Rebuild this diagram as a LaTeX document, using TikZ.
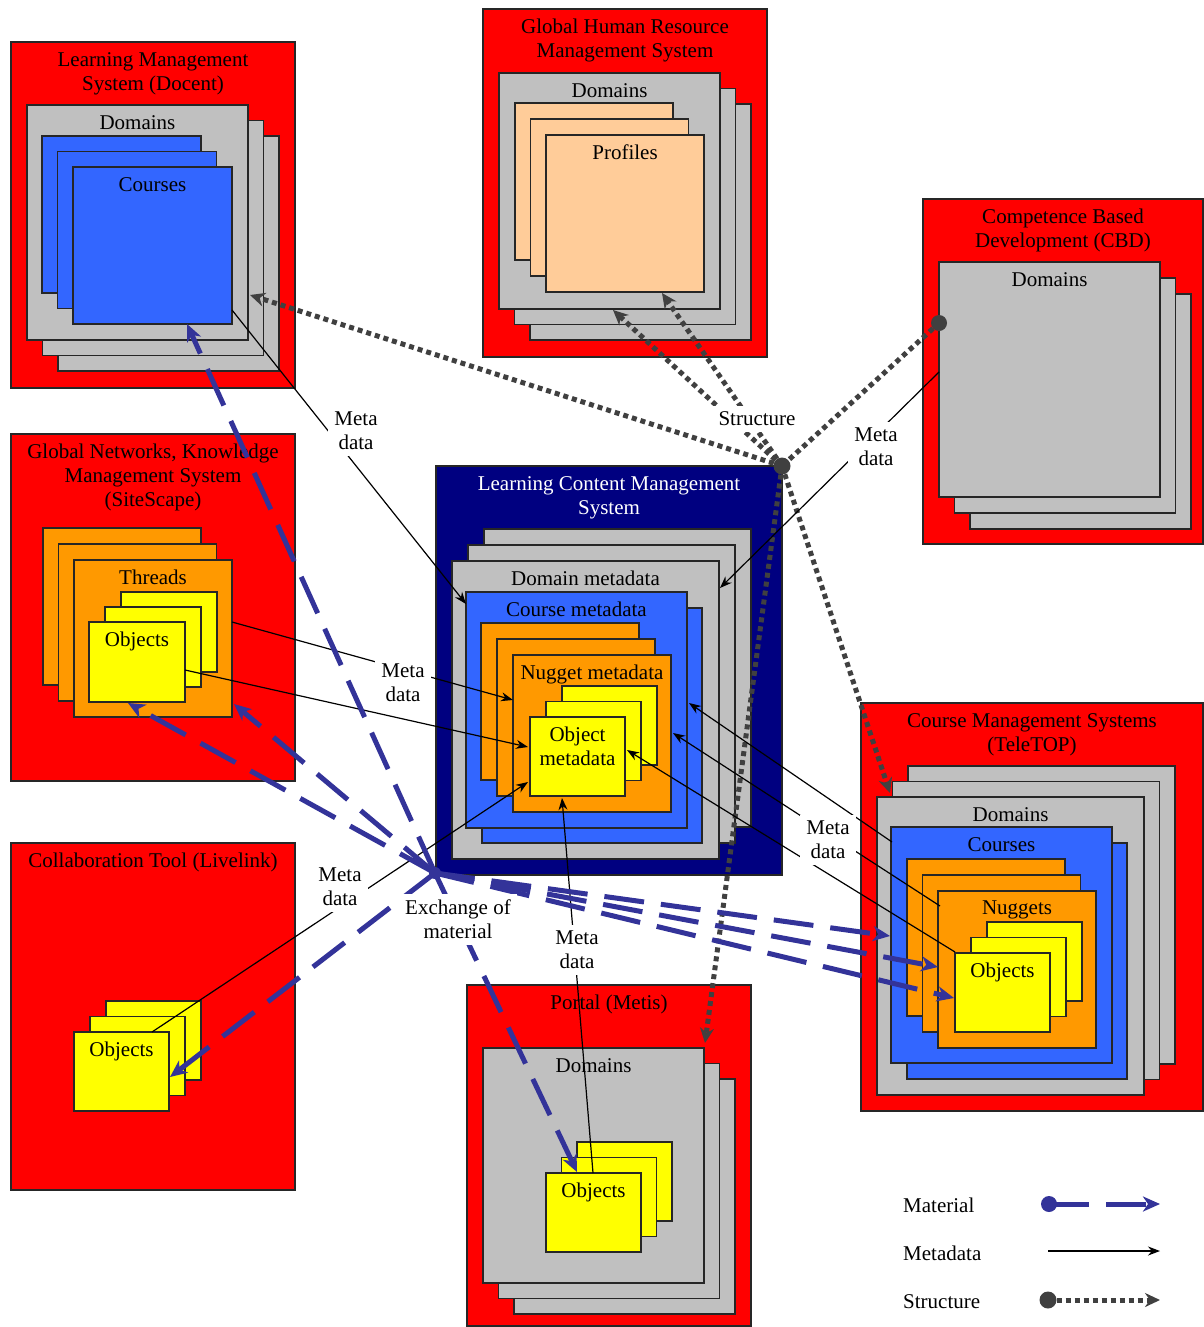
\documentclass[tikz,border=0pt]{standalone}
\usepackage{fontspec}
\setmainfont{Liberation Serif}
\usetikzlibrary{arrows.meta,positioning,calc}

\definecolor{rojo}{HTML}{FF0000}
\definecolor{gris}{HTML}{C0C0C0}
\definecolor{azul}{HTML}{3366FF}
\definecolor{naranja}{HTML}{FF9900}
\definecolor{amarillo}{HTML}{FFFF00}
\definecolor{melocoton}{HTML}{FFCC99}
\definecolor{marino}{HTML}{000080}
\definecolor{violeta}{HTML}{333399}
\definecolor{oscuro}{HTML}{404040}

% caja con rotulo arriba: [color texto], nombre, x1, y1, x2, y2, relleno, texto
\newcommand{\caja}[8][black]{%
  \node[hoja, fill=#7, anchor=north west,
        minimum width={(#5-#3)*1pt}, minimum height={(#6-#4)*1pt}] (#2) at (#3,#4) {};
  \node[rotulo, text=#1] (#2-t) at ([yshift=-10pt]#2.north) {#8};
}
% pila de tres hojas: las dos de atras desplazadas (dx,dy)
\newcommand{\pila}[9]{%
  \foreach \k in {2,1}
    \draw[hoja, fill=#8, shift={(\k*#6,\k*#7)}] (#2,#3) rectangle (#4,#5);
  \caja{#1}{#2}{#3}{#4}{#5}{#8}{#9}%
}

\begin{document}
\begin{tikzpicture}[
            x=1pt, y=-1pt,
            hoja/.style={draw=black!85, line width=1.2pt, inner sep=0pt, outer sep=0pt},
            rotulo/.style={anchor=north, inner sep=0pt, align=center, font=\fontsize{21}{24}\selectfont},
            etiqueta/.style={fill=white, inner sep=6pt, align=center, font=\fontsize{21}{24}\selectfont},
            material/.style={draw=violeta, line width=5pt, dash pattern=on 40pt off 17pt,
                             -{Stealth[length=17pt, width=15pt, inset=5pt]}},
            metadato/.style={draw=black, line width=1.2pt, -{Stealth[length=12pt, width=9pt]}},
            estructura/.style={draw=oscuro, line width=5pt, dash pattern=on 5pt off 4pt,
                               -{Stealth[length=15pt, width=14pt]}},
            punto/.style={circle, fill=oscuro, inner sep=0pt, minimum size=17pt}
        ]
        \useasboundingbox (0,0) rectangle (1203,1327);

        % Learning Management System
        \caja{lms}{11}{42}{295}{388}{rojo}{Learning Management\\System (Docent)}
        \pila{lms-dom}{27}{105}{248}{340}{15.5}{15.5}{gris}{Domains}
        \pila{lms-cur}{73}{167}{232}{324}{-15.5}{-15.5}{azul}{Courses}

        % Human Resource Management
        \caja{rrhh}{483}{9}{767}{357}{rojo}{Global Human Resource\\Management System}
        \pila{rrhh-dom}{499}{73}{720}{309}{15.5}{15.5}{gris}{Domains}
        \pila{rrhh-per}{546}{135}{704}{292}{-15.5}{-16}{melocoton}{Profiles}

        % Competence Based Development
        \caja{cbd}{923}{199}{1203}{544}{rojo}{Competence Based\\Development (CBD)}
        \pila{cbd-dom}{939}{262}{1160}{497}{15.5}{16}{gris}{Domains}

        % Knowledge Management (SiteScape)
        \caja{red}{11}{434}{295}{781}{rojo}{Global Networks, Knowledge\\Management System\\(SiteScape)}
        \pila{red-hil}{74}{560}{232}{717}{-15.5}{-16}{naranja}{Threads}
        \pila{red-obj}{89}{622}{185}{702}{16}{-15}{amarillo}{Objects}

        % Collaboration Tool
        \caja{col}{11}{843}{295}{1190}{rojo}{Collaboration Tool (Livelink)}
        \pila{col-obj}{74}{1032}{169}{1111}{16}{-15.5}{amarillo}{Objects}

        % LCMS central
        \caja[white]{lcms}{436}{466}{782}{875}{marino}{Learning Content Management\\System}
        \pila{lcms-dom}{452}{561}{719}{859}{16}{-16}{gris}{Domain metadata}
        \draw[hoja, fill=azul] (482,608) rectangle (702,843);
        \caja{lcms-cur}{466}{592}{687}{828}{azul}{Course metadata}
        \pila{lcms-pep}{513}{655}{671}{812}{-16}{-16}{naranja}{Nugget metadata}
        \pila{lcms-obj}{530}{717}{625}{796}{16}{-15.5}{amarillo}{Object\\metadata}

        % Course Management Systems (TeleTOP)
        \caja{tt}{861}{703}{1203}{1111}{rojo}{Course Management Systems\\(TeleTOP)}
        \pila{tt-dom}{877}{797}{1144}{1095}{15.5}{-15.5}{gris}{Domains}
        \draw[hoja, fill=azul] (907,843) rectangle (1127,1079);
        \caja{tt-cur}{891}{827}{1112}{1063}{azul}{Courses}
        \pila{tt-pep}{938}{891}{1096}{1048}{-15.5}{-16}{naranja}{Nuggets}
        \pila{tt-obj}{955}{953}{1050}{1032}{16}{-15.5}{amarillo}{Objects}

        % Portal
        \caja{portal}{467}{985}{751}{1326}{rojo}{Portal (Metis)}
        \pila{portal-dom}{483}{1048}{704}{1283}{15.5}{15.5}{gris}{Domains}
        \pila{portal-obj}{546}{1173}{641}{1252}{15.5}{-15.5}{amarillo}{Objects}

        % Estructura: desde CBD via la esquina del LCMS
        \node[punto] (nodo-est) at (782,466) {};
        \node[punto, minimum size=16pt] (cbd-pt) at (939,323) {};
        \coordinate (es-lms) at (250,295);
        \coordinate (es-rrhh1) at (613,310);
        \coordinate (es-rrhh2) at (662,293);
        \coordinate (es-tt) at (890,793);
        \coordinate (es-por) at (705,1043);
        \draw[estructura, -] (cbd-pt) -- (nodo-est);
        \foreach \t in {es-lms, es-rrhh1, es-rrhh2, es-tt, es-por}
            \draw[estructura] (nodo-est) -- (\t);

        % Metadatos
        \coordinate (md-lms) at (232,310);
        \coordinate (md-cbd) at (939,372);
        \coordinate (md-hil) at (232,622);
        \coordinate (md-obj) at (185,670);
        \coordinate (md-col) at (152,1032);
        \coordinate (md-por) at (593,1173);
        \coordinate (md-ttc) at (892,842);
        \coordinate (md-ttp) at (940,906);
        \coordinate (md-tto) at (955,952);
        \coordinate (ld-cur) at (466,604);
        \coordinate (ld-dom) at (720,588);
        \coordinate (ld-pep) at (513,700);
        \coordinate (ld-obj1) at (528,747);
        \coordinate (ld-obj2) at (528,782);
        \coordinate (ld-obj3) at (562,798);
        \coordinate (ld-cur2) at (689,703);
        \coordinate (ld-pep2) at (673,733);
        \coordinate (ld-obj4) at (627,750);
        \foreach \a/\b in {md-lms/ld-cur, md-cbd/ld-dom, md-hil/ld-pep, md-obj/ld-obj1,
                           md-col/ld-obj2, md-por/ld-obj3, md-ttc/ld-cur2, md-ttp/ld-pep2, md-tto/ld-obj4}
            \draw[metadato] (\a) -- (\b);

        % Intercambio de material
        \node[punto, fill=violeta, minimum size=12pt] (nodo-mat) at (435,873) {};
        \coordinate (mt-lms) at (187,324);
        \coordinate (mt-hil) at (234,704);
        \coordinate (mt-obj) at (128,703);
        \coordinate (mt-col) at (170,1077);
        \coordinate (mt-por) at (577,1172);
        \coordinate (mt-tt1) at (890,936);
        \coordinate (mt-tt2) at (938,967);
        \coordinate (mt-tt3) at (954,998);
        \foreach \t in {mt-lms, mt-hil, mt-obj, mt-col, mt-por, mt-tt1, mt-tt2, mt-tt3}
            \draw[material] (nodo-mat.center) -- (\t);

        % Etiquetas
        \node[etiqueta] (et-a) at (356,431) {Meta\\data};
        \node[etiqueta] (et-b) at (876,447) {Meta\\data};
        \node[etiqueta] (et-c) at (403,683) {Meta\\data};
        \node[etiqueta] (et-d) at (340,887) {Meta\\data};
        \node[etiqueta] (et-e) at (577,950) {Meta\\data};
        \node[etiqueta] (et-f) at (828,840) {Meta\\data};
        \node[etiqueta] (et-est) at (757,419) {Structure};
        \node[etiqueta] (et-mat) at (458,919) {Exchange of\\material};

        % Leyenda
        \node[etiqueta, anchor=west, inner sep=0pt] (ley-mat) at (903,1205) {Material};
        \node[etiqueta, anchor=west, inner sep=0pt] (ley-met) at (903,1253) {Metadata};
        \node[etiqueta, anchor=west, inner sep=0pt] (ley-est) at (903,1302) {Structure};
        \node[punto, fill=violeta, minimum size=16pt] (ley-mat-a) at (1049,1204) {};
        \coordinate (ley-mat-b) at (1160,1204);
        \draw[material] (ley-mat-a.center) -- (ley-mat-b);
        \coordinate (ley-met-a) at (1048,1251);
        \coordinate (ley-met-b) at (1160,1251);
        \draw[metadato] (ley-met-a) -- (ley-met-b);
        \node[punto] (ley-est-a) at (1048,1300) {};
        \coordinate (ley-est-b) at (1160,1300);
        \draw[estructura] (ley-est-a) -- (ley-est-b);

    \end{tikzpicture}
\end{document}
